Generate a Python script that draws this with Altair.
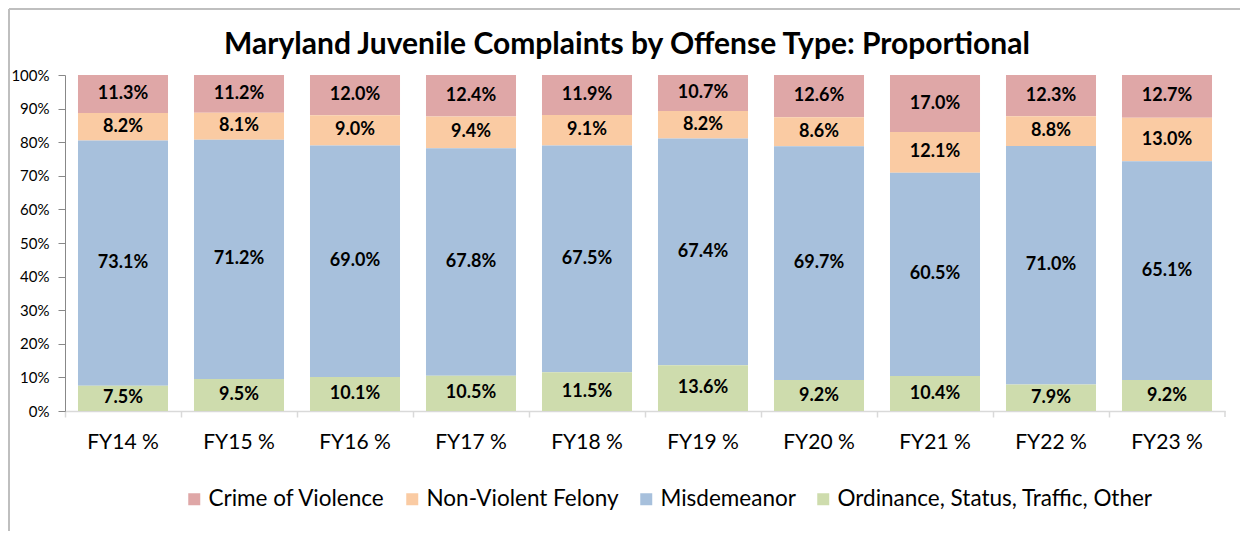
import altair as alt
import pandas as pd

years = ["FY14 %", "FY15 %", "FY16 %", "FY17 %", "FY18 %", "FY19 %", "FY20 %", "FY21 %", "FY22 %", "FY23 %"]
categories = ["Crime of Violence", "Non-Violent Felony", "Misdemeanor", "Ordinance, Status, Traffic, Other"]
colors = ["#DFA7A7", "#FACBA3", "#A7C0DC", "#CEDCAD"]

violence = [11.3, 11.2, 12.0, 12.4, 11.9, 10.7, 12.6, 17.0, 12.3, 12.7]
felony = [8.2, 8.1, 9.0, 9.4, 9.1, 8.2, 8.6, 12.1, 8.8, 13.0]
misdemeanor = [73.1, 71.2, 69.0, 67.8, 67.5, 67.4, 69.7, 60.5, 71.0, 65.1]
ordinance = [7.5, 9.5, 10.1, 10.5, 11.5, 13.6, 9.2, 10.4, 7.9, 9.2]
y_ticks = [0, 10, 20, 30, 40, 50, 60, 70, 80, 90, 100]

series = [violence, felony, misdemeanor, ordinance]
stack_rank = [3, 2, 1, 0]
rows = []
for cat, vals, rk in zip(categories, series, stack_rank):
    for y, v in zip(years, vals):
        rows.append({"year": y, "cat": cat, "value": v, "rank": rk})
df = pd.DataFrame(rows)

FONT = "Lato"

base = alt.Chart(df).transform_stack(
    stack="value", groupby=["year"], sort=[alt.SortField("rank", order="ascending")],
    as_=["y0", "y1"], offset="normalize"
).transform_calculate(y0p="datum.y0 * 100", y1p="datum.y1 * 100",
                      mid="(datum.y0 + datum.y1) * 50",
                      lbl="format(datum.value, '.1f') + '%'")

xaxis = alt.Axis(bandPosition=0, labelAngle=0, labelFontSize=21,
                 labelFont=FONT, labelColor="#000", labelPadding=14,
                 domainColor="#D9D9D9", tickColor="#D9D9D9", tickSize=6,
                 domainWidth=1.5, tickWidth=1.5, labelBound=False, labelFlush=False,
                 labelOverlap=False)
xscale = alt.Scale(paddingInner=0, paddingOuter=0)
yaxis = alt.Axis(values=y_ticks, tickCount=20, grid=False, labelExpr="datum.value + '%'",
                 labelFontSize=15, labelFont=FONT, labelColor="#000", labelOverlap=False,
                 domainColor="#888", tickColor="#888", tickSize=7, labelPadding=9)
yscale = alt.Scale(domain=[0, 100], nice=False)

bars = base.mark_bar(width=alt.RelativeBandSize(0.776)).encode(
    x=alt.X("year:N", sort=years, title=None, scale=xscale, axis=xaxis),
    y=alt.Y("y0p:Q", title=None, scale=yscale, axis=yaxis),
    y2="y1p:Q",
    color=alt.Color("cat:N", scale=alt.Scale(domain=categories, range=colors),
                    legend=alt.Legend(title=None, orient="none", direction="horizontal",
                                      legendX=118, legendY=413, symbolType="square",
                                      symbolSize=144, symbolStrokeWidth=0, labelFontSize=22.5,
                                      labelFont=FONT, labelColor="#000", columnPadding=16,
                                      labelOffset=3, symbolOpacity=1, labelLimit=500,
                                      gridAlign="none")),
)

labels = base.mark_text(font=FONT, fontSize=18, fontWeight="bold", color="#000").encode(
    x=alt.X("year:N", sort=years, title=None, scale=xscale, axis=xaxis),
    y=alt.Y("mid:Q", title=None, scale=yscale, axis=yaxis),
    text="lbl:N",
)

one = pd.DataFrame({"a": [0]})
left_line = alt.Chart(one).mark_rule(color="#BFBFBF", strokeWidth=2).encode(
    x=alt.value(-56), y=alt.value(-66), y2=alt.value(460))
top_line = alt.Chart(one).mark_rule(color="#BFBFBF", strokeWidth=2).encode(
    x=alt.value(-56), x2=alt.value(1175), y=alt.value(-66))
end_tick = alt.Chart(one).mark_rule(color="#D9D9D9", strokeWidth=1.5).encode(
    x=alt.value(1160), y=alt.value(336), y2=alt.value(342))

chart = alt.layer(left_line, top_line, end_tick, bars, labels).properties(
    width=1160, height=336,
    autosize=alt.AutoSizeParams(type="none"),
    padding={"left": 57, "top": 67, "right": 15, "bottom": 120},
    title=alt.TitleParams("Maryland Juvenile Complaints by Offense Type: Proportional",
                          font=FONT, fontSize=30, fontWeight="bold", color="#000",
                          dx=-18, offset=-52, anchor="middle"),
).configure_view(stroke=None)

chart.save("out.html", embed_options={"renderer": "svg", "actions": False})
